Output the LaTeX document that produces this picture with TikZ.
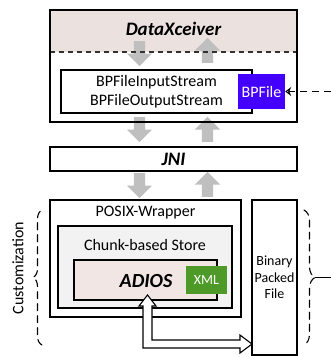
\documentclass[tikz,border=0pt]{standalone}
\usepackage{fontspec}
\setmainfont{Carlito}
\usetikzlibrary{shapes.arrows,decorations.pathreplacing,arrows.meta}
\definecolor{pinktop}{RGB}{235,225,223}
\definecolor{adiospink}{RGB}{242,230,228}
\definecolor{chunkgray}{RGB}{242,242,242}
\definecolor{xmlgreen}{RGB}{78,154,40}
\definecolor{bpblue}{RGB}{68,0,255}
\definecolor{arrowgray}{RGB}{191,191,191}
\definecolor{dashgray}{RGB}{50,50,50}
\begin{document}
\begin{tikzpicture}[x=1pt,y=1pt,
  box/.style={draw=black, line width=1.4pt, inner sep=0pt},
  ibox/.style={draw=black, line width=1.1pt, inner sep=0pt},
  garrow/.style={single arrow, fill=arrowgray, draw=none, inner sep=5.5pt,
    single arrow head extend=7pt, minimum height=25pt, anchor=tail},
  lbl/.style={font=\fontsize{16}{19}\selectfont, align=center, inner sep=0pt},
  title/.style={font=\fontsize{19}{22}\selectfont\bfseries\itshape, inner sep=0pt},
  bracestyle/.style={decorate, line width=1.1pt, dash pattern=on 7pt off 5pt, line cap=round},
]
\fill[white] (0,0) rectangle (331,-357);
\useasboundingbox (0,0) rectangle (331,-357);

% DataXceiver header region
\node[fill=pinktop, inner sep=0pt, minimum width=247pt, minimum height=42pt] (dxtop) at (173.5,-31) {};
\node[title] (dxl) at (173.5,-29) {DataXceiver};

% gray block arrows
\node[garrow, rotate=-90] (a1) at (139.5,-41) {};
\node[garrow, rotate=90]  (a2) at (207.5,-63) {};
\node[garrow, rotate=-90] (a3) at (139.5,-117) {};
\node[garrow, rotate=90]  (a4) at (207.5,-142) {};
\node[garrow, rotate=-90] (a5) at (139.5,-173) {};
\node[garrow, rotate=90]  (a6) at (207.5,-197) {};

\draw[dashgray, line width=1.5pt, dash pattern=on 5pt off 4pt] (dxtop.south west) -- (dxtop.south east);

% DataXceiver box
\node[box, minimum width=247pt, minimum height=112pt] (dx) at (173.5,-66) {};
\node[ibox, lbl, minimum width=191pt, minimum height=43pt] (streams) at (156.5,-91.5) {BPFileInputStream\\BPFileOutputStream};
\node[fill=bpblue, text=white, inner sep=0pt, minimum width=47pt, minimum height=35pt,
  font=\fontsize{16}{19}\selectfont] (bpf) at (261.5,-91.5) {BPFile};
\coordinate (ext) at (331,-91.5);
\draw[line width=1.3pt, dash pattern=on 7pt off 5pt, -{Stealth[open, length=6pt, width=9pt, line width=1.3pt]}] (ext) -- (bpf.east);

% JNI
\node[box, title, minimum width=247pt, minimum height=24pt] (jni) at (173.5,-159) {JNI};

% POSIX wrapper
\node[box, minimum width=191pt, minimum height=117pt] (posix) at (145.5,-258.5) {};
\node[lbl] (posixl) at (145.5,-213) {POSIX-Wrapper};
\node[ibox, fill=chunkgray, minimum width=174pt, minimum height=82pt] (chunk) at (145,-267) {};
\node[lbl] (chunkl) at (145,-245) {Chunk-based Store};
\node[ibox, fill=adiospink, minimum width=143pt, minimum height=40pt] (adios) at (145.5,-280) {};
\node[font=\fontsize{20}{24}\selectfont\bfseries\itshape, inner sep=0pt] (adiosl) at (146,-281) {ADIOS};
\node[fill=xmlgreen, text=white, inner sep=0pt, minimum width=41pt, minimum height=28pt,
  font=\fontsize{14}{17}\selectfont] (xml) at (206.5,-280) {XML};

% Binary packed file
\node[box, align=center, font=\fontsize{14}{16.5}\selectfont, minimum width=45pt, minimum height=155pt] (bin) at (274.5,-277.5) {Binary\\Packed\\File};

% hollow double arrow
\draw[fill=white, line width=1.1pt, line join=miter]
  (147.5,-295) -- (156,-306) -- (152,-306) -- (152,-340) -- (240,-340) -- (240,-335)
  -- (252,-344) -- (240,-353) -- (240,-348) -- (143,-348) -- (143,-306) -- (139,-306) -- cycle;

% braces
\coordinate (lb1) at (42,-345);
\coordinate (lb2) at (42,-210);
\draw[bracestyle, decoration={brace, amplitude=9pt}] (lb1) -- (lb2);
\node[lbl, rotate=90] (cust) at (18,-268) {Customization};

\coordinate (rb1) at (304,-210);
\coordinate (rb2) at (304,-345);
\draw[bracestyle, decoration={brace, amplitude=11pt}] (rb1) -- (rb2);
\coordinate (rbtip) at (315,-277.5);
\coordinate (rbext) at (331,-277.5);
\draw[line width=1.1pt] (rbtip) -- (rbext);
\end{tikzpicture}
\end{document}
